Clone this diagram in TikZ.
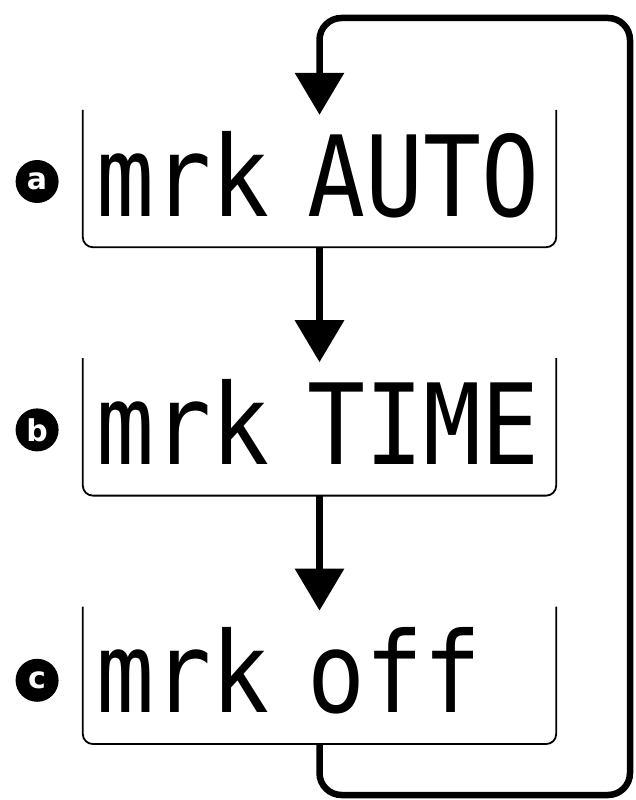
\documentclass[tikz,border=0pt]{standalone}
\usepackage{fontspec}
\newfontfamily\lcdfont[FakeStretch=0.86]{DejaVu Sans Mono}
\newfontfamily\tagfont{DejaVu Sans}
\usetikzlibrary{arrows.meta,positioning,calc}
\tikzset{
  lcdbox/.style={inner xsep=13pt,inner ysep=0pt,text width=447pt,align=left,
    text height=106pt,text depth=31pt,font=\lcdfont\fontsize{112}{112}\selectfont},
  boxline/.style={line width=1.8pt,rounded corners=10pt},
  tagdot/.style={circle,fill=black,text=white,inner sep=0pt,minimum size=43pt,
    font=\tagfont\bfseries\fontsize{30}{30}\selectfont},
  flowarrow/.style={-{Triangle[length=42pt,width=48pt]},line width=6.5pt}
}

\begin{document}
\begin{tikzpicture}[x=1pt,y=-1pt,node distance=111pt]
  \useasboundingbox (0,0) rectangle (635,800);
  \node[lcdbox] (auto) at (319.5,178.5) {mrk AUTO};
  \node[lcdbox,below=of auto] (time) {mrk TIME};
  \node[lcdbox,below=of time] (off) {mrk off};
  % open-topped frames
  \foreach \b in {auto,time,off}
    \draw[boxline] (\b.north west) -- (\b.south west) -- (\b.south east) -- (\b.north east);
  \node[tagdot,left=24pt of auto.west,yshift=-3pt] (taga) {a};
  \node[tagdot,left=24pt of time.west,yshift=-3pt] (tagb) {b};
  \node[tagdot,left=24pt of off.west,yshift=-5pt] (tagc) {c};
  \coordinate (loopbr) at (630,795);
  \coordinate (looptr) at (630,18);
  \draw[flowarrow] (auto.south) -- ([yshift=-4pt]time.north);
  \draw[flowarrow] (time.south) -- ([yshift=-4pt]off.north);
  \draw[flowarrow,rounded corners=22pt] (off.south) |- (loopbr) -- (looptr) -| ([yshift=-5pt]auto.north);
\end{tikzpicture}
\end{document}
